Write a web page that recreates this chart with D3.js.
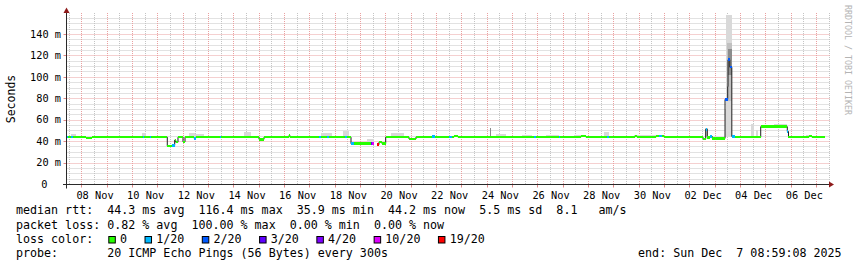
<!DOCTYPE html>
<html><head><meta charset="utf-8">
<script src="https://cdn.jsdelivr.net/npm/d3@7"></script>
<style>
html,body{margin:0;padding:0;background:#fff;}
svg{display:block;}
text{font-family:"DejaVu Sans Mono",monospace;white-space:pre;}
</style>
</head><body>
<svg id="c" width="857" height="267" xml:space="preserve"></svg>
<script>
// ---------- data ----------
const startTime = "2025-11-07T08:59:08";
const endTime   = "2025-12-07T08:59:08";

const yTickValues = [0, 20, 40, 60, 80, 100, 120, 140];
const yTickLabels = ["0", "20 m", "40 m", "60 m", "80 m", "100 m", "120 m", "140 m"];

const xTickTimes  = ["2025-11-08T12:00","2025-11-10T12:00","2025-11-12T12:00","2025-11-14T12:00","2025-11-16T12:00",
                     "2025-11-18T12:00","2025-11-20T12:00","2025-11-22T12:00","2025-11-24T12:00","2025-11-26T12:00",
                     "2025-11-28T12:00","2025-11-30T12:00","2025-12-02T12:00","2025-12-04T12:00","2025-12-06T12:00"];
const xTickLabels = ["08 Nov","10 Nov","12 Nov","14 Nov","16 Nov","18 Nov","20 Nov","22 Nov","24 Nov","26 Nov",
                     "28 Nov","30 Nov","02 Dec","04 Dec","06 Dec"];

// median rtt (ms) as step series: value holds from each time until the next; loss = lost pings of 20
const medianTimes = [
 "2025-11-07T08:59","2025-11-07T10:40","2025-11-07T13:43","2025-11-07T15:20","2025-11-08T03:56","2025-11-08T09:37",
 "2025-11-10T09:56","2025-11-10T11:10","2025-11-10T16:34","2025-11-10T17:31","2025-11-11T08:57","2025-11-11T13:41",
 "2025-11-11T15:57","2025-11-11T16:55","2025-11-11T19:05","2025-11-11T23:50","2025-11-12T01:44","2025-11-12T10:15",
 "2025-11-12T11:51","2025-11-13T10:53","2025-11-13T11:50","2025-11-14T23:50","2025-11-15T04:34","2025-11-16T04:15",
 "2025-11-16T05:11","2025-11-17T08:40","2025-11-17T10:34","2025-11-17T16:15","2025-11-17T18:09","2025-11-18T09:19",
 "2025-11-18T10:44","2025-11-18T15:00","2025-11-18T17:50","2025-11-19T09:39","2025-11-19T11:10","2025-11-19T12:46",
 "2025-11-19T15:54","2025-11-19T17:31","2025-11-19T20:21","2025-11-19T23:51","2025-11-20T21:56","2025-11-21T04:34",
 "2025-11-21T19:44","2025-11-21T22:34","2025-11-22T11:50","2025-11-22T14:40","2025-11-22T16:34","2025-11-22T20:21",
 "2025-11-25T20:21","2025-11-25T22:15","2025-11-26T20:02","2025-11-26T21:27","2025-11-27T16:52","2025-11-27T21:36",
 "2025-11-28T17:31","2025-11-28T19:25","2025-11-29T20:02","2025-11-29T21:56","2025-11-30T15:56","2025-11-30T18:47",
 "2025-11-30T21:36","2025-11-30T23:30","2025-12-02T12:29","2025-12-02T15:01","2025-12-02T16:32","2025-12-02T18:49",
 "2025-12-02T21:17","2025-12-03T09:19","2025-12-03T11:52","2025-12-03T12:10","2025-12-03T13:52","2025-12-03T15:46",
 "2025-12-03T18:48","2025-12-04T19:08","2025-12-05T20:20","2025-12-05T21:27","2025-12-06T16:54","2025-12-06T19:41",
 "2025-12-07T08:00"];
const medianValues = [
 44.2,44.2,44.2,44.2,43.4,44.2,
 44.2,44.2,44.2,44.2,35.9,36.5,
 41.5,39.5,44.2,39.8,44.2,43.2,
 44.2,44.2,44.2,42.2,44.2,45.8,
 44.2,44.2,44.2,44.2,44.2,44.2,
 44.2,38.0,38.2,38.2,38.2,null,
 37.2,39.6,38.2,44.2,42.5,44.4,
 44.6,44.4,44.2,44.2,45.3,44.2,
 44.2,44.2,44.2,44.2,45.3,44.2,
 44.2,44.2,45.3,44.2,45.3,45.3,
 45.3,44.2,42.5,51.6,43.8,44.8,
 43.0,79.5,91.3,116.4,109.5,44.8,
 44.2,54.0,49.5,44.2,45.2,44.2,
 44.2];
const medianLoss = [
 1,0,1,0,0,0,
 1,0,1,0,0,1,
 0,0,0,0,0,1,
 0,1,0,0,0,0,
 0,1,0,1,0,1,
 0,1,0,3,10,20,
 19,0,0,0,0,0,
 1,0,1,0,0,0,
 1,0,1,0,0,0,
 1,0,0,0,0,1,
 0,0,0,1,0,1,
 0,2,0,2,2,1,
 0,0,1,0,0,0,
 0];

// smoke: spread of the 20 pings [start, end, low ms, high ms]
const smokeOuter = [
 ["2025-11-07T13:30","2025-11-07T18:30",44,47],
 ["2025-11-10T09:00","2025-11-10T12:45",44,48],
 ["2025-11-12T05:30","2025-11-12T11:00",44,48.5],
 ["2025-11-12T11:00","2025-11-12T19:40",44,47],
 ["2025-11-14T09:35","2025-11-14T16:15",44,48.7],
 ["2025-11-17T10:35","2025-11-17T21:00",44,48],
 ["2025-11-18T07:25","2025-11-18T13:05",44,50],
 ["2025-11-19T06:00","2025-11-19T12:46",38,42],
 ["2025-11-20T04:50","2025-11-20T17:10",44,48],
 ["2025-11-24T08:20","2025-11-24T17:50",44,47],
 ["2025-11-25T09:00","2025-11-25T18:30",44,46.5],
 ["2025-11-26T07:40","2025-11-26T20:00",44,46.5],
 ["2025-11-27T10:15","2025-11-27T19:40",44,46.5],
 ["2025-11-28T14:40","2025-11-28T19:25",44,49],
 ["2025-11-29T19:00","2025-11-30T16:50",44,46],
 ["2025-12-02T14:00","2025-12-02T17:00",44,53],
 ["2025-12-03T08:50","2025-12-03T10:20",44,70],
 ["2025-12-03T10:20","2025-12-03T16:10",44,158],
 ["2025-12-04T09:55","2025-12-04T12:45",44,56],
 ["2025-12-04T14:35","2025-12-04T16:30",44,50.5],
 ["2025-12-05T07:40","2025-12-05T20:00",54,56.5],
 ["2025-12-06T14:00","2025-12-06T19:00",44,46]
];
const smokeMid = [
 ["2025-12-03T11:20","2025-12-03T16:00",78,132]
];
const smokeCore = [
 ["2025-11-24T02:40","2025-11-24T03:40",44,53],
 ["2025-12-03T12:10","2025-12-03T15:30",102,126]
];

const lossLevels = [0, 1, 2, 3, 4, 10, 19];
const lossLabels = ["0", "1/20", "2/20", "3/20", "4/20", "10/20", "19/20"];
const lossColors = ["#26ff00", "#00b8ff", "#0059ff", "#5e00ff", "#7e00ff", "#dd00ff", "#ff0000"];

const statLines = [
 "median rtt:  44.3 ms avg  116.4 ms max  35.9 ms min  44.2 ms now  5.5 ms sd  8.1   am/s",
 "packet loss: 0.82 % avg  100.00 % max  0.00 % min  0.00 % now"
];
const lossTitle = "loss color:";
const probeLine = "probe:       20 ICMP Echo Pings (56 Bytes) every 300s";
const endLine = "end: Sun Dec  7 08:59:08 2025";
const yTitle = "Seconds";
const watermark = "RRDTOOL / TOBI OETIKER";

// ---------- drawing ----------
const p = s => new Date(s + (s.length === 16 ? ":00Z" : "Z"));
const svg = d3.select("#c");
svg.append("rect").attr("width", 857).attr("height", 267).attr("fill", "#fff");

const x = d3.scaleUtc().domain([p(startTime), p(endTime)]).range([66, 826]);
const y = d3.scaleLinear().domain([0, 160]).range([184.5, 13.07]);
const plotL = 66.5, plotR = 829.5, plotT = 13, plotB = 184.5;
const gridEnd = x.invert(plotR);

const px = v => Math.floor(v) + 0.5;
const grid = svg.append("g");
// minor vertical (12h)
d3.utcHour.every(12).range(x.domain()[0], gridEnd).filter(d => d.getUTCHours() !== 0).forEach(d => {
  grid.append("line").attr("x1", px(x(d))).attr("x2", px(x(d))).attr("y1", plotT).attr("y2", plotB)
    .attr("stroke", "#c4c4c4").attr("stroke-dasharray", "1,1");
});
// minor horizontal (5 ms)
d3.range(5, 160, 5).filter(v => v % 20 !== 0).forEach(v => {
  grid.append("line").attr("x1", plotL).attr("x2", plotR).attr("y1", px(y(v))).attr("y2", px(y(v)))
    .attr("stroke", "#c4c4c4").attr("stroke-dasharray", "1,1");
});
// major vertical (days)
d3.utcDay.range(x.domain()[0], gridEnd).forEach(d => {
  const xx = px(x(d));
  grid.append("line").attr("x1", xx).attr("x2", xx).attr("y1", plotT).attr("y2", plotB)
    .attr("stroke", "#eaa0a0").attr("stroke-dasharray", "1,1");
  grid.append("line").attr("x1", xx).attr("x2", xx).attr("y1", plotB).attr("y2", plotB + 3)
    .attr("stroke", "#e08a8a");
});
// major horizontal
yTickValues.filter(v => v > 0).forEach(v => {
  const yy = px(y(v));
  grid.append("line").attr("x1", plotL).attr("x2", plotR).attr("y1", yy).attr("y2", yy)
    .attr("stroke", "#eaa0a0").attr("stroke-dasharray", "1,1");
  grid.append("line").attr("x1", plotL - 3).attr("x2", plotL).attr("y1", yy).attr("y2", yy)
    .attr("stroke", "#e08a8a");
});

// smoke
function drawSmoke(list, color) {
  svg.append("g").attr("shape-rendering", "crispEdges").selectAll("rect").data(list).join("rect")
    .attr("x", d => x(p(d[0]))).attr("width", d => x(p(d[1])) - x(p(d[0])))
    .attr("y", d => y(d[3])).attr("height", d => y(d[2]) - y(d[3]))
    .attr("fill", color);
}
drawSmoke(smokeOuter, "#d9d9d9");
drawSmoke(smokeMid, "#c0c0c0");
drawSmoke(smokeCore, "#8c8c8c");

// median
const med = medianTimes.map((t, i) => ({ t: p(t), v: medianValues[i], loss: medianLoss[i] }));
const line = d3.line().x(d => x(d.t)).y(d => y(d.v)).defined(d => d.v != null).curve(d3.curveStepAfter);
svg.append("path").attr("d", line(med)).attr("fill", "none").attr("stroke", "#202020").attr("stroke-width", 1);
const colorOf = l => { const i = lossLevels.indexOf(l); return i >= 0 ? lossColors[i] : null; };
const segs = med.slice(0, -1).map((d, i) => ({ ...d, t2: med[i + 1].t })).filter(d => d.v != null && colorOf(d.loss));
svg.append("g").attr("shape-rendering", "crispEdges").selectAll("rect").data(segs).join("rect")
  .attr("x", d => x(d.t)).attr("width", d => x(d.t2) - x(d.t))
  .attr("y", d => y(d.v) - 1.3).attr("height", 2.6)
  .attr("fill", d => colorOf(d.loss));

// axes lines + arrows
const axisColor = "#2a2a2a", arrowColor = "#8e1a1a";
svg.append("line").attr("x1", 63).attr("x2", 829.5).attr("y1", plotB).attr("y2", plotB).attr("stroke", axisColor);
svg.append("line").attr("x1", plotL).attr("x2", plotL).attr("y1", 188.5).attr("y2", 12.5).attr("stroke", axisColor);
svg.append("path").attr("d", "M829,181.5L834,184.5L829,187.5Z").attr("fill", arrowColor);
svg.append("path").attr("d", "M63.5,13L66.5,7.5L69.5,13Z").attr("fill", arrowColor);

// tick labels through d3 axes
const gx = svg.append("g").attr("transform", "translate(0," + plotB + ")")
  .call(d3.axisBottom(x).tickValues(xTickTimes.map(p)).tickFormat((d, i) => xTickLabels[i]).tickSize(0).tickPadding(0));
gx.select(".domain").remove();
gx.attr("font-family", "DejaVu Sans Mono").attr("font-size", "10.3px");
gx.selectAll("text").attr("y", 14.2).attr("dy", null).attr("fill", "#000");

const gy = svg.append("g").attr("transform", "translate(61,0)")
  .call(d3.axisLeft(y).tickValues(yTickValues).tickFormat((d, i) => yTickLabels[i]).tickSize(0).tickPadding(0));
gy.select(".domain").remove();
gy.attr("font-family", "DejaVu Sans Mono").attr("font-size", "10.3px");
gy.selectAll("text").attr("dy", "0.27em").attr("fill", "#000").attr("x", d => d === 0 ? -13.5 : 0);

// titles
svg.append("text").attr("transform", "translate(15,99) rotate(-90)").attr("text-anchor", "middle")
  .attr("font-size", "11.5px").attr("fill", "#000").text(yTitle);
svg.append("text").attr("transform", "translate(845,5) rotate(90)").attr("text-anchor", "start")
  .attr("font-size", "8.3px").attr("fill", "#b4b4b4").text(watermark);

// legend
const lx = 16, fs = "11.66px", cw = 7.02;
const base = [214.2, 228.5, 242.7, 256.9];
statLines.forEach((s, i) => svg.append("text").attr("x", lx).attr("y", base[i]).attr("font-size", fs).attr("fill", "#000").text(s));
svg.append("text").attr("x", lx).attr("y", base[2]).attr("font-size", fs).attr("fill", "#000").text(lossTitle);
let bx = 108.3;
lossLabels.forEach((lab, i) => {
  svg.append("rect").attr("x", bx + 0.5).attr("y", 236.5).attr("width", 6.5).attr("height", 6.5)
    .attr("fill", lossColors[i]).attr("stroke", "#000").attr("stroke-width", 1);
  svg.append("text").attr("x", bx + 11.7).attr("y", base[2]).attr("font-size", fs).attr("fill", "#000").text(lab);
  bx += 11.7 + lab.length * cw + 17.5;
});
svg.append("text").attr("x", lx).attr("y", base[3]).attr("font-size", fs).attr("fill", "#000").text(probeLine);
svg.append("text").attr("x", 841.6).attr("y", base[3]).attr("text-anchor", "end").attr("font-size", fs).attr("fill", "#000").text(endLine);
</script>
</body></html>
